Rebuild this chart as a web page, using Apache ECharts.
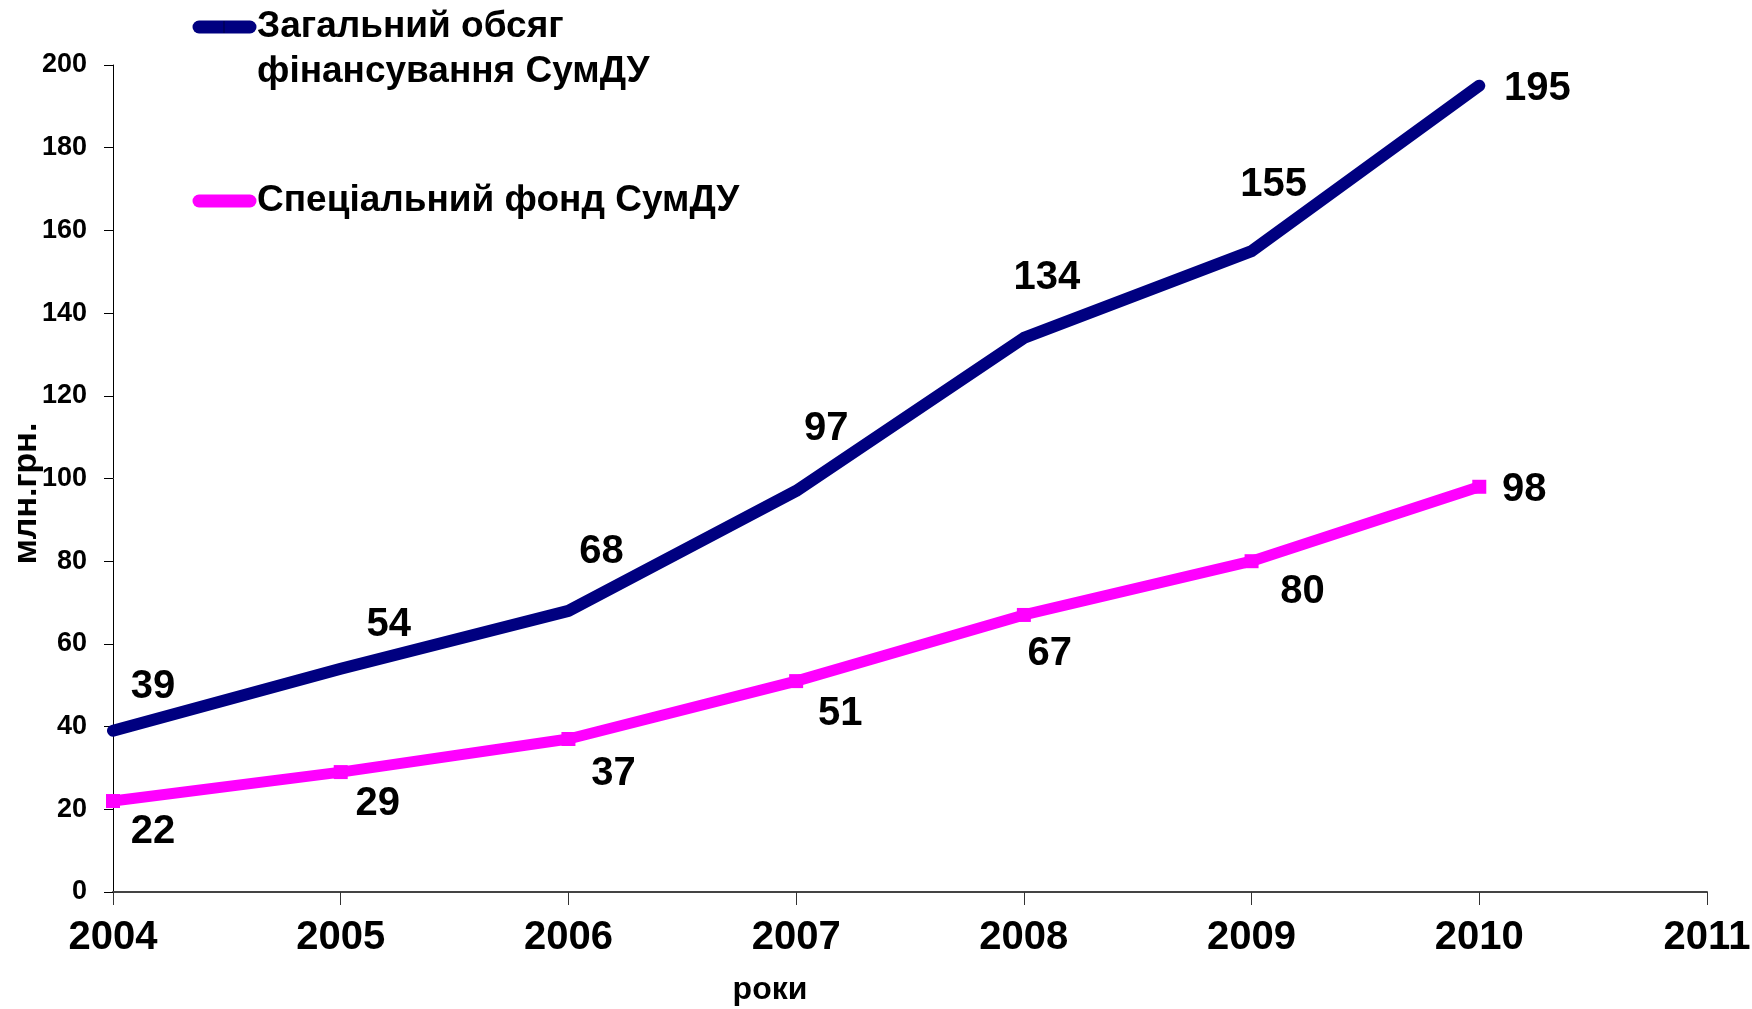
<!DOCTYPE html>
<html>
<head>
<meta charset="utf-8">
<script src="https://cdn.jsdelivr.net/npm/echarts@6/dist/echarts.min.js"></script>
<style>
  html, body { margin: 0; padding: 0; background: #fff; }
  #main { width: 1752px; height: 1009px; }
</style>
</head>
<body>
<div id="main"></div>
<script>
// роки
var years = ['2004', '2005', '2006', '2007', '2008', '2009', '2010', '2011'];
// млн.грн.
var totalFunding = [39, 54, 68, 97, 134, 155, 195];
var specialFund = [22, 29, 37, 51, 67, 80, 98];
var yTicks = [0, 20, 40, 60, 80, 100, 120, 140, 160, 180, 200];

var totalName = 'Загальний обсяг\nфінансування СумДУ';
var specialName = 'Спеціальний фонд СумДУ';

// зсуви підписів відносно точок (лише оформлення)
var totalShift = [[40, -44], [48, -44], [33, -59], [30, -62], [23, -60], [22, -66], [58, 3]];
var specialShift = [[40, 31], [37, 32], [45, 35], [44, 33], [26, 39], [51, 31], [45, 3]];

var FONT = "'Liberation Sans', Arial, sans-serif";
var NAVY = '#000080';
var PINK = '#FF00FF';

function withLabels(values, shifts) {
  var out = [];
  for (var i = 0; i < values.length; i++) {
    out.push({ value: values[i], label: { offset: shifts[i] } });
  }
  return out;
}

var chart = echarts.init(document.getElementById('main'));
chart.setOption({
  animation: false,
  backgroundColor: '#fff',
  grid: { left: 113, right: 45, top: 65, bottom: 117, containLabel: false, outerBoundsMode: 'none' },
  xAxis: {
    type: 'category',
    data: years,
    boundaryGap: false,
    name: 'роки',
    nameLocation: 'middle',
    nameGap: 82,
    nameMoveOverlap: false,
    nameTextStyle: { fontFamily: FONT, fontWeight: 'bold', fontSize: 32, color: '#000', padding: [0, 280, 0, 0] },
    axisLine: { lineStyle: { color: '#444', width: 2 } },
    axisTick: { length: 13, lineStyle: { color: '#333', width: 1 } },
    axisLabel: { fontFamily: FONT, fontWeight: 'bold', fontSize: 40, color: '#000', margin: 26 },
    splitLine: { show: false }
  },
  yAxis: {
    type: 'value',
    min: yTicks[0],
    max: yTicks[yTicks.length - 1],
    interval: yTicks[1] - yTicks[0],
    name: 'млн.грн.',
    nameLocation: 'middle',
    nameGap: 69,
    nameRotate: 90,
    nameMoveOverlap: false,
    nameTextStyle: { fontFamily: FONT, fontWeight: 'bold', fontSize: 34, color: '#000', padding: [0, 30, 0, 0] },
    axisLine: { show: true, lineStyle: { color: '#000', width: 1 } },
    axisTick: { show: true, length: 9, lineStyle: { color: '#000', width: 1 } },
    axisLabel: { fontFamily: FONT, fontWeight: 'bold', fontSize: 27, color: '#000', margin: 26 },
    splitLine: { show: false }
  },
  series: [
    {
      name: specialName,
      type: 'line',
      data: withLabels(specialFund, specialShift),
      symbol: 'rect',
      symbolSize: 14,
      itemStyle: { color: PINK },
      lineStyle: { color: PINK, width: 11 },
      label: {
        show: true, position: 'inside',
        fontFamily: FONT, fontWeight: 'bold', fontSize: 40, color: '#000'
      },
      z: 2
    },
    {
      name: totalName,
      type: 'line',
      data: withLabels(totalFunding, totalShift),
      symbol: 'circle',
      symbolSize: 2,
      itemStyle: { color: NAVY },
      lineStyle: { color: NAVY, width: 12, cap: 'round', join: 'round' },
      label: {
        show: true, position: 'inside',
        fontFamily: FONT, fontWeight: 'bold', fontSize: 40, color: '#000'
      },
      z: 3
    }
  ],
  graphic: [
    { type: 'line', shape: { x1: 199, y1: 27, x2: 250, y2: 27 },
      style: { stroke: NAVY, lineWidth: 13, lineCap: 'round' } },
    { type: 'line', shape: { x1: 224, y1: 21, x2: 224, y2: 33 },
      style: { stroke: '#000060', lineWidth: 2 } },
    { type: 'text', x: 257, y: 4,
      style: { text: totalName, fill: '#000', font: 'bold 37px ' + FONT, lineHeight: 45, verticalAlign: 'top' } },
    { type: 'line', shape: { x1: 199, y1: 201, x2: 250, y2: 201 },
      style: { stroke: PINK, lineWidth: 13, lineCap: 'round' } },
    { type: 'text', x: 257, y: 201,
      style: { text: specialName, fill: '#000', font: 'bold 37px ' + FONT, verticalAlign: 'middle' } }
  ]
});
</script>
</body>
</html>
